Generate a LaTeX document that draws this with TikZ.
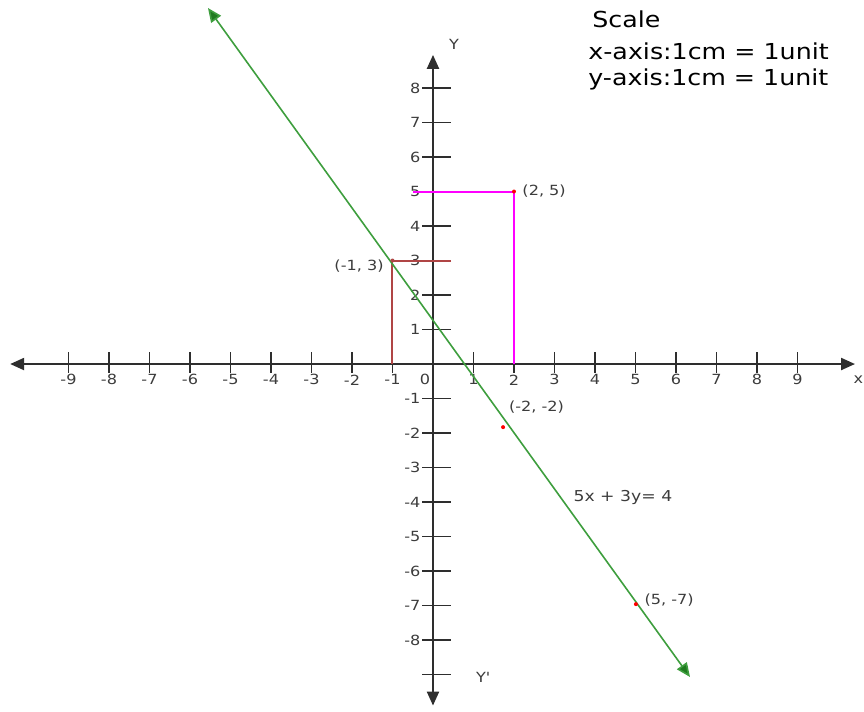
\documentclass[tikz,border=0pt]{standalone}
\usepackage{fontspec}
\setmainfont{DejaVu Sans}
\newfontfamily\widefont[FakeStretch=1.15]{DejaVu Sans}
\usetikzlibrary{arrows.meta}
\definecolor{axisgray}{HTML}{2E2E2E}
\definecolor{lblgray}{HTML}{3C3C3C}
\definecolor{linegreen}{HTML}{3E9E3E}
\definecolor{arrowgreen}{HTML}{1F7A1F}
\definecolor{brownred}{HTML}{B04545}
\definecolor{pink}{HTML}{FF00FF}
\begin{document}
\begin{tikzpicture}[x=20.25pt,y=17.25pt,
  axisline/.style={draw=axisgray,line width=1.1pt,{Triangle[length=7pt,width=6pt]}-{Triangle[length=7pt,width=6pt]}},
  tickline/.style={draw=axisgray,line width=0.9pt},
  ticklbl/.style={font=\widefont\fontsize{7}{8}\selectfont,text=lblgray,inner sep=0pt},
  ptlbl/.style={font=\widefont\fontsize{7}{8}\selectfont,text=lblgray,inner sep=0pt},
  scaletxt/.style={font=\widefont\fontsize{11}{13}\selectfont,text=black,inner sep=0pt,anchor=base west},
  ptdot/.style={circle,fill=red,inner sep=0pt,minimum size=2pt},
  greenline/.style={draw=linegreen,line width=0.8pt,{Triangle[length=7pt,width=6pt,fill=arrowgreen]}-{Triangle[length=7pt,width=6pt,fill=arrowgreen]}}]
\useasboundingbox (-10.691,-10.058) rectangle (10.642,10.551);
% axes
\coordinate (xl) at (-10.44,0);
\coordinate (xr) at (10.42,0);
\coordinate (yb) at (0,-9.9);
\coordinate (yt) at (0,8.96);
\coordinate (o) at (0,0);
\draw[axisline] (xl) -- (xr);
\draw[axisline] (yb) -- (yt);
% x ticks
\foreach \i in {-9,...,-1,1,2,...,9}{
  \draw[tickline] (\i,-0.26) -- (\i,0.35);
  \node[ticklbl] (xt\i) at (\i,-0.46) {\i};
}
\node[ticklbl] (zero) at (-0.2,-0.46) {0};
% y ticks
\foreach \i in {-9,...,-1,1,2,...,8}{
  \draw[tickline] (-0.27,\i) -- (0.44,\i);
}
\foreach \i in {-8,...,-1,1,2,...,8}{
  \node[ticklbl,anchor=east] (yt\i) at (-0.3,\i) {\i};
}
\node[ticklbl] (ylab) at (0.52,9.27) {Y};
\node[ticklbl] (yplab) at (1.24,-9.07) {Y'};
\node[ticklbl,anchor=east] (xlab) at (10.63,-0.46) {x};
% points
\coordinate (p25) at (2,5);
\coordinate (p25x) at (2,0);
\coordinate (p25y) at (-0.49,5);
\draw[pink,line width=1pt] (p25y) -- (p25) -- (p25x);
\coordinate (pm13) at (-1,3);
\coordinate (pm13x) at (-1,0);
\coordinate (pm13y) at (0.45,3);
\draw[brownred,line width=1pt] (pm13y) -- (pm13) -- (pm13x);
% green line
\coordinate (gA) at (-5.556,10.319);
\coordinate (gB) at (6.346,-9.072);
\draw[greenline] (gA) -- (gB);
\node[ptdot] (d25) at (p25) {};
\node[ptdot,fill=brownred] (dm13) at (pm13) {};
\node[ptdot] (dm2) at (1.73,-1.83) {};
\node[ptdot] (d57) at (5.01,-6.96) {};
% labels
\node[ptlbl,anchor=west] (l25) at (2.2,5.0) {(2, 5)};
\node[ptlbl,anchor=east] (lm13) at (-1.21,2.84) {(-1, 3)};
\node[ptlbl] (lm2) at (2.556,-1.246) {(-2, -2)};
\node[ptlbl] (l57) at (5.83,-6.84) {(5, -7)};
\node[ptlbl,font=\widefont\fontsize{7.5}{9}\selectfont] (eq) at (4.69,-3.88) {5x + 3y= 4};
% scale
\node[scaletxt] (sc1) at (3.926,9.768) {Scale};
\node[scaletxt] (sc2) at (3.827,8.812) {x-axis:1cm = 1unit};
\node[scaletxt] (sc3) at (3.827,8.087) {y-axis:1cm = 1unit};
\end{tikzpicture}
\end{document}
